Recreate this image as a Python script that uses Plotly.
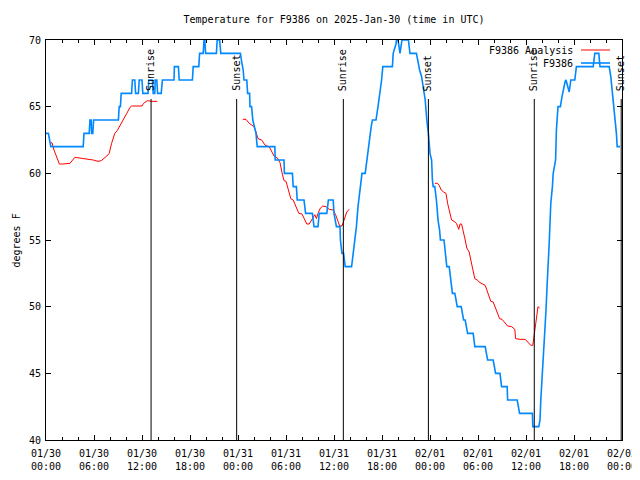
import pandas as pd
import plotly.graph_objects as go

# ---------------- data ----------------
start_time = "2025-01-30 00:00"
end_time = "2025-02-02 00:00"

# F9386 observations (hours since 2025-01-30 00:00 UTC, degrees F)
blue_hours = [0.0, 0.3, 0.6, 4.65, 4.75, 5.4, 5.5, 5.65, 5.7, 5.85, 5.95, 9.05, 9.15, 9.3, 9.4,
              10.7, 10.8, 11.1, 11.2, 11.55, 11.65, 12.0, 12.1, 12.75, 12.85, 13.3, 13.4, 13.6,
              13.65, 13.85, 13.95, 14.4, 14.55, 16.0, 16.05, 16.55, 16.65, 18.3, 18.4, 19.1, 19.2,
              19.65, 19.75, 19.85, 19.95, 21.3, 21.4, 21.7, 21.85, 24.3, 24.45, 24.65, 24.75, 25.1,
              25.2, 25.45, 25.5, 25.7, 25.85, 26.0, 26.25, 26.4, 28.6, 28.65, 29.75, 29.8, 30.8,
              30.9, 31.3, 31.4, 32.25, 32.45, 33.3, 33.5, 34.0, 34.15, 35.1, 35.3, 35.9, 36.0, 36.3,
              36.75, 36.8, 37.0, 37.2, 37.4, 38.2, 38.4, 38.6, 38.8, 39.0, 39.25, 39.5, 39.9, 40.1,
              40.3, 40.5, 40.65, 40.8, 41.25, 41.5, 41.75, 41.95, 42.1, 43.3, 43.4, 43.75, 43.8,
              44.0, 44.25, 44.5, 45.3, 45.5, 46.3, 46.45, 46.7, 46.95, 47.2, 47.4, 47.6, 47.8, 48.0,
              48.2, 48.3, 48.4, 48.6, 48.7, 48.8, 48.9, 49.0, 49.2, 49.3, 49.75, 49.85, 50.0, 50.1,
              50.4, 50.5, 50.7, 50.8, 51.1, 51.2, 51.4, 51.9, 52.0, 52.2, 52.4, 52.5, 52.7, 53.4,
              53.6, 54.9, 55.2, 55.9, 56.2, 56.75, 56.95, 57.65, 57.7, 58.9, 59.2, 60.8, 60.85,
              61.6, 61.75, 61.85, 61.95, 62.1, 62.25, 62.4, 62.5, 62.65, 62.8, 62.9, 63.0, 63.1,
              63.3, 63.4, 63.7, 63.8, 64.0, 64.3, 64.5, 64.7, 64.9, 65.0, 65.2, 65.4, 65.6, 66.1,
              66.3, 68.4, 68.6, 69.1, 69.25, 70.4, 70.6, 70.8, 71.0, 71.1, 71.3, 71.4, 71.75]
blue_temps = [63.0, 63.0, 62.0, 62.0, 63.0, 63.0, 64.0, 64.0, 63.0, 63.0, 64.0, 64.0, 65.0, 65.0, 66.0,
              66.0, 67.0, 67.0, 66.0, 66.0, 67.0, 67.0, 66.0, 66.0, 67.0, 67.0, 66.0, 66.0,
              67.0, 67.0, 66.0, 66.0, 67.0, 67.0, 68.0, 68.0, 67.0, 67.0, 68.0, 68.0, 69.0,
              69.0, 70.0, 70.0, 69.0, 69.0, 70.0, 70.0, 69.0, 69.0, 68.4, 67.75, 67.0, 67.0,
              66.0, 66.0, 65.0, 65.0, 64.0, 63.6, 63.0, 62.0, 62.0, 61.0, 61.0, 60.0, 60.0,
              59.0, 59.0, 58.0, 58.0, 57.0, 57.0, 56.0, 56.0, 57.0, 57.0, 58.0, 58.0, 57.0, 56.0,
              56.0, 55.0, 54.0, 54.0, 53.0, 53.0, 54.0, 55.0, 56.0, 57.5, 59.0, 60.0, 60.0, 61.0,
              62.0, 62.6, 63.5, 64.0, 64.0, 65.0, 66.0, 67.0, 68.0, 68.0, 69.0, 69.7, 70.0,
              70.0, 69.0, 70.0, 70.0, 69.0, 69.0, 68.4, 67.75, 67.25, 66.4, 65.5, 64.0, 63.0, 61.5,
              61.0, 59.5, 59.0, 59.0, 58.6, 58.0, 57.3, 56.5, 55.75, 55.0, 55.0, 54.4, 53.75, 53.0,
              53.0, 52.3, 51.5, 51.0, 51.0, 50.7, 50.0, 50.0, 49.7, 49.0, 49.0, 48.7, 48.0, 48.0,
              47.0, 47.0, 46.0, 46.0, 45.0, 45.0, 44.0, 44.0, 43.0, 43.0, 42.0, 42.0, 41.0,
              41.0, 41.5, 43.0, 44.0, 45.5, 46.75, 48.25, 49.75, 51.75, 53.25, 54.75, 56.25, 57.75,
              59.0, 60.0, 61.0, 63.25, 65.0, 65.0, 65.75, 66.4, 66.9, 67.0, 66.6, 66.1, 67.0, 67.0,
              68.0, 68.0, 69.0, 69.0, 68.0, 68.0, 67.25, 66.1, 65.0, 64.0, 63.0, 62.0, 62.0]

# F9386 Analysis (None marks gaps between analysis runs)
red_hours = [0.5, 0.75, 1.0, 1.3, 1.67, 2.1, 3.0, 3.6, 4.25, 5.3, 5.9, 6.5, 6.9, 7.6, 7.9, 8.2, 8.6,
             8.9, 9.2, 9.67, 10.1, 10.5, 10.7, 12.0, 12.2, 12.67, 13.2, 13.9,
             None,
             24.6, 25.0, 25.4, 25.7, 26.0, 26.25, 26.5, 26.96, 27.4, 27.9, 28.2, 28.5, 29.0, 29.25,
             29.5, 29.75, 30.0, 30.3, 30.6, 30.9, 31.3, 31.6, 32.0, 32.25, 32.6, 32.9, 33.2, 33.6,
             33.8, 34.0, 34.3, 34.6, 35.0, 35.4, 35.9, 36.2, 36.5, 36.7, 37.0, 37.25, 37.6, 37.9,
             None,
             48.6, 48.95, 49.15, 49.4, 49.7, 50.0, 50.2, 50.5, 50.7, 51.0, 51.3, 51.6, 51.75, 51.95,
             52.2, 52.4, 52.6, 52.9, 53.1, 53.3, 53.6, 53.9, 54.25, 54.9, 55.1, 55.4, 55.6, 55.9,
             56.1, 56.4, 56.7, 57.0, 57.3, 57.7, 58.2, 58.6, 58.7, 59.25, 59.9, 60.3, 60.6, 60.85,
             61.0, 61.1, 61.3, 61.5, 61.7]
red_temps = [62.25, 62.3, 61.75, 61.25, 60.7, 60.7, 60.75, 61.2, 61.15, 61.05, 61.0, 60.9, 60.95, 61.3,
             61.5, 62.25, 63.0, 63.2, 63.5, 64.05, 64.5, 64.95, 65.05, 65.05, 65.25, 65.45, 65.4, 65.4,
             None,
             64.05, 64.05, 63.75, 63.6, 63.5, 63.1, 62.6, 62.5, 62.1, 62.0, 61.7, 61.3, 61.1, 60.8,
             60.05, 59.45, 59.4, 58.75, 58.1, 58.0, 57.5, 57.0, 56.95, 56.6, 56.2, 56.2, 56.55, 56.9,
             56.6, 57.0, 57.4, 57.55, 57.5, 57.3, 57.25, 56.9, 56.4, 56.05, 56.05, 56.55, 57.1, 57.3,
             None,
             59.25, 59.25, 59.1, 58.75, 58.6, 58.5, 57.75, 57.0, 56.5, 56.4, 56.25, 55.8, 56.2, 56.2,
             55.6, 55.0, 54.4, 54.1, 53.5, 52.9, 52.1, 52.0, 51.8, 51.6, 51.25, 50.75, 50.4, 50.35,
             50.0, 49.5, 49.1, 49.05, 48.8, 48.55, 48.5, 48.3, 47.6, 47.55, 47.55, 47.3, 47.1, 47.1,
             47.75, 48.4, 49.25, 50.0, 49.9]

sun_event_times = ["2025-01-30 13:08", "2025-01-30 23:50", "2025-01-31 13:10",
                   "2025-01-31 23:48", "2025-02-01 13:02", "2025-02-01 23:54"]
sun_event_labels = ["Sunrise", "Sunset", "Sunrise", "Sunset", "Sunrise", "Sunset"]

x_tick_vals = ["2025-01-30 00:00", "2025-01-30 06:00", "2025-01-30 12:00", "2025-01-30 18:00",
               "2025-01-31 00:00", "2025-01-31 06:00", "2025-01-31 12:00", "2025-01-31 18:00",
               "2025-02-01 00:00", "2025-02-01 06:00", "2025-02-01 12:00", "2025-02-01 18:00",
               "2025-02-02 00:00"]
x_tick_text = ["01/30<br>00:00", "01/30<br>06:00", "01/30<br>12:00", "01/30<br>18:00",
               "01/31<br>00:00", "01/31<br>06:00", "01/31<br>12:00", "01/31<br>18:00",
               "02/01<br>00:00", "02/01<br>06:00", "02/01<br>12:00", "02/01<br>18:00",
               "02/02<br>00:00"]
y_tick_vals = [40, 45, 50, 55, 60, 65, 70]

series_names = ["F9386 Analysis", "F9386"]
series_colors = ["#ff0000", "#0088ff"]
series_widths = [1, 1.6]

# ---------------- figure ----------------
base = pd.Timestamp(start_time)


def to_time(hours):
    return [None if h is None else base + pd.Timedelta(hours=h) for h in hours]


FONT = "DejaVu Sans Mono"
fig = go.Figure()
fig.add_trace(go.Scatter(x=to_time(red_hours), y=red_temps, mode="lines", name=series_names[0],
                         line=dict(color=series_colors[0], width=series_widths[0]),
                         connectgaps=False, showlegend=False))
fig.add_trace(go.Scatter(x=to_time(blue_hours), y=blue_temps, mode="lines", name=series_names[1],
                         line=dict(color=series_colors[1], width=series_widths[1]),
                         showlegend=False))

# the page body has an 8px margin: size the figure so the plot box lands at 46..622 x 40..440
OFF = 8
W, H = 640 - OFF, 480 - OFF
PL, PR, PT, PB = 46, 622, 40, 440
L, R, T = PL - OFF, 640 - PR, PT - OFF
B = H - T - (PB - PT)
PW, PH = PR - PL, PB - PT


def px(xp):
    return (xp - PL) / PW


def py(yp):
    return (PB - yp) / PH


shapes = []
annotations = []
for t, lab in zip(sun_event_times, sun_event_labels):
    shapes.append(dict(type="line", xref="x", yref="paper", x0=t, x1=t, y0=0, y1=py(99),
                       line=dict(color="black", width=1)))
    annotations.append(dict(x=t, xref="x", y=py(93), yref="paper", text=lab, textangle=-90,
                            showarrow=False, xanchor="center", yanchor="bottom",
                            font=dict(family=FONT, size=10, color="black")))

# legend (gnuplot style: text then sample)
legend_rows = [50, 63]
for name, color, w, yr in zip(series_names, series_colors, series_widths, legend_rows):
    annotations.append(dict(x=px(575), xref="paper", y=py(yr), yref="paper", text=name,
                            showarrow=False, xanchor="right", yanchor="middle",
                            font=dict(family=FONT, size=10, color="black")))
    shapes.append(dict(type="line", xref="paper", yref="paper", x0=px(581), x1=px(610),
                       y0=py(yr), y1=py(yr), line=dict(color=color, width=w)))

# y-axis title, as far left as the page allows
annotations.append(dict(x=px(OFF + 1), xref="paper", y=py(241), yref="paper", text="degrees F",
                        textangle=-90, showarrow=False, xanchor="left", yanchor="middle",
                        font=dict(family=FONT, size=10, color="black")))

fig.update_layout(
    width=W, height=H,
    margin=dict(l=L, r=R, t=T, b=B, pad=0, autoexpand=False),
    paper_bgcolor="white", plot_bgcolor="white",
    font=dict(family=FONT, size=10, color="black"),
    title=dict(text="Temperature for F9386 on 2025-Jan-30 (time in UTC)", x=0.5, xref="paper",
               xanchor="center", y=1 - (19 - OFF) / H, yref="container", yanchor="middle",
               font=dict(family=FONT, size=10, color="black")),
    shapes=shapes,
    annotations=annotations,
    showlegend=False,
)
fig.update_xaxes(
    type="date", range=[start_time, end_time], tickmode="array",
    tickvals=x_tick_vals, ticktext=x_tick_text, automargin=False,
    ticks="inside", ticklen=5, tickcolor="black", tickwidth=1, ticklabelstandoff=4,
    minor=dict(ticks="inside", ticklen=3, dtick=2 * 3600 * 1000, tick0=start_time,
               tickcolor="black", showgrid=False),
    showline=True, linecolor="black", linewidth=1, mirror="ticks",
    showgrid=False, zeroline=False,
    tickfont=dict(family=FONT, size=10, color="black"),
)
fig.update_yaxes(
    range=[40, 70], tickmode="array", tickvals=y_tick_vals, automargin=False,
    ticks="inside", ticklen=5, tickcolor="black", tickwidth=1, ticklabelstandoff=2,
    showline=True, linecolor="black", linewidth=1, mirror="ticks",
    showgrid=False, zeroline=False,
    tickfont=dict(family=FONT, size=10, color="black"),
)

fig.write_html("out.html")
